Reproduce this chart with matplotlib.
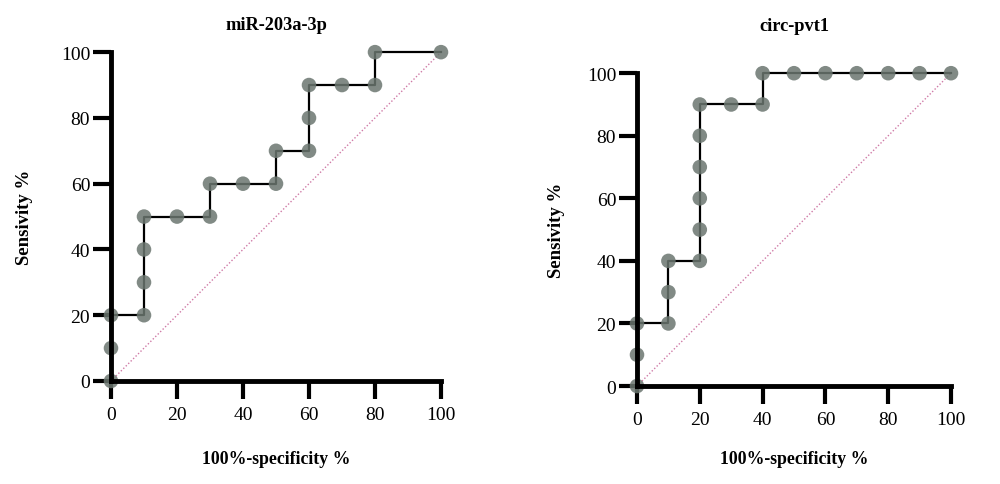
import matplotlib
matplotlib.use('Agg')
import matplotlib.pyplot as plt

# ROC points (100%-specificity, sensitivity)
mir_fpr = [0, 0, 0, 10, 10, 10, 10, 20, 30, 30, 40, 50, 50, 60, 60, 60, 70, 80, 80, 100]
mir_tpr = [0, 10, 20, 20, 30, 40, 50, 50, 50, 60, 60, 60, 70, 70, 80, 90, 90, 90, 100, 100]

pvt_fpr = [0, 0, 0, 10, 10, 10, 20, 20, 20, 20, 20, 20, 30, 40, 40, 50, 60, 70, 80, 90, 100]
pvt_tpr = [0, 10, 20, 20, 30, 40, 40, 50, 60, 70, 80, 90, 90, 90, 100, 100, 100, 100, 100, 100, 100]

ticks = [0, 20, 40, 60, 80, 100]

plt.rcParams['font.family'] = ['Liberation Serif', 'DejaVu Serif']
DOT = '#6b7670'
DIAG = '#cf7aa6'

fig = plt.figure(figsize=(10, 4.85), dpi=100)

def draw_roc(rect, fpr, tpr, title, title_y, xlab_y, ylab_x):
    ax = fig.add_axes(rect)
    ax.plot([0, 100], [0, 100], linestyle=(0, (1, 1.5)), color=DIAG, lw=1.0, zorder=1)
    ax.plot(fpr, tpr, color='black', lw=1.6, zorder=2, clip_on=False)
    ax.scatter(fpr, tpr, s=110, color=DOT, alpha=0.85, edgecolors='none', zorder=3, clip_on=False)
    ax.set_xlim(0, 100)
    ax.set_ylim(0, 100)
    for s in ['top', 'right']:
        ax.spines[s].set_visible(False)
    for s in ['left', 'bottom']:
        ax.spines[s].set_linewidth(3.5)
        ax.spines[s].set_zorder(4)
    ax.set_xticks(ticks)
    ax.set_yticks(ticks)
    ax.tick_params(length=13, width=3, labelsize=14)
    ax.tick_params(axis='x', pad=5)
    ax.tick_params(axis='y', pad=2)
    ax.set_xlabel('100%-specificity %', fontsize=12.8, fontweight='bold')
    ax.xaxis.set_label_coords(0.5, xlab_y)
    ax.set_ylabel('Sensivity %', fontsize=13.5, fontweight='bold')
    ax.yaxis.set_label_coords(ylab_x, 0.5)
    ax.set_title(title, fontsize=13.2, fontweight='bold', y=title_y, pad=0)
    return ax

draw_roc([0.111, 0.2124, 0.33, 0.678], mir_fpr, mir_tpr, 'miR-203a-3p', 1.07, -0.21, -0.236)
draw_roc([0.637, 0.202, 0.314, 0.645], pvt_fpr, pvt_tpr, 'circ-pvt1', 1.137, -0.204, -0.229)

fig.savefig('out.png', dpi=100)
